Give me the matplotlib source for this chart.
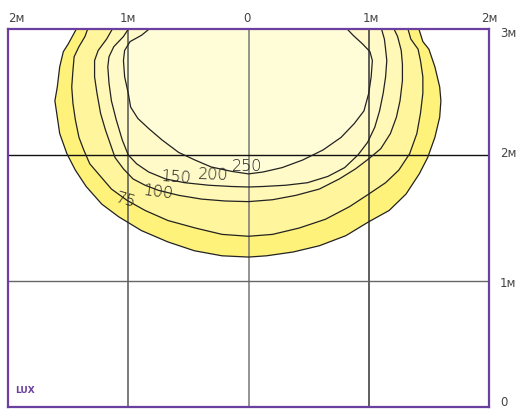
import matplotlib.pyplot as plt

# isolux lines (metres), each from top-left round the bottom to top-right
c1_x = [-1.42, -1.50, -1.54, -1.57, -1.59, -1.61, -1.59, -1.57, -1.51, -1.44, -1.35, -1.22, -1.08, -0.89, -0.67, -0.45, -0.22, 0.0,
        0.15, 0.37, 0.59, 0.81, 1.00, 1.17, 1.31, 1.42, 1.49, 1.55, 1.59, 1.60, 1.59, 1.55, 1.50, 1.45, 1.41]
c1_y = [3.02, 2.88, 2.82, 2.70, 2.54, 2.43, 2.30, 2.17, 2.01, 1.88, 1.75, 1.61, 1.51, 1.40, 1.31, 1.24, 1.20, 1.19,
        1.20, 1.23, 1.28, 1.36, 1.47, 1.56, 1.69, 1.85, 1.98, 2.14, 2.30, 2.43, 2.54, 2.70, 2.84, 2.90, 3.02]

c2_x = [-1.33, -1.36, -1.41, -1.45, -1.46, -1.47, -1.46, -1.44, -1.41, -1.37, -1.32, -1.23, -1.14, -1.01, -0.86, -0.67, -0.44, -0.22, 0.0,
        0.20, 0.42, 0.64, 0.84, 1.00, 1.14, 1.25, 1.34, 1.40, 1.43, 1.45, 1.45, 1.43, 1.41, 1.35, 1.32]
c2_y = [3.02, 2.94, 2.86, 2.78, 2.67, 2.54, 2.41, 2.28, 2.14, 2.04, 1.93, 1.83, 1.73, 1.64, 1.56, 1.48, 1.42, 1.37, 1.355,
        1.37, 1.42, 1.49, 1.59, 1.69, 1.78, 1.88, 2.01, 2.17, 2.33, 2.49, 2.62, 2.75, 2.84, 2.92, 3.02]

c3_x = [-1.12, -1.18, -1.25, -1.28, -1.28, -1.26, -1.23, -1.19, -1.15, -1.11, -1.04, -0.96, -0.86, -0.75, -0.58, -0.39, -0.195, 0.0,
        0.20, 0.395, 0.59, 0.755, 0.89, 1.00, 1.10, 1.18, 1.23, 1.26, 1.28, 1.28, 1.27, 1.24, 1.20]
c3_y = [3.02, 2.92, 2.83, 2.75, 2.62, 2.49, 2.33, 2.20, 2.09, 1.98, 1.89, 1.81, 1.76, 1.72, 1.68, 1.65, 1.635, 1.63,
        1.645, 1.68, 1.73, 1.81, 1.89, 1.97, 2.05, 2.17, 2.30, 2.43, 2.59, 2.72, 2.83, 2.94, 3.02]

c4_x = [-0.985, -1.04, -1.12, -1.16, -1.17, -1.16, -1.14, -1.10, -1.05, -1.00, -0.93, -0.83, -0.69, -0.53, -0.33, -0.14, 0.0,
        0.12, 0.31, 0.49, 0.66, 0.80, 0.91, 0.99, 1.05, 1.09, 1.12, 1.14, 1.15, 1.14, 1.13, 1.10]
c4_y = [3.02, 2.94, 2.86, 2.78, 2.70, 2.57, 2.43, 2.28, 2.12, 2.00, 1.93, 1.865, 1.81, 1.78, 1.76, 1.75, 1.746,
        1.75, 1.76, 1.78, 1.83, 1.90, 2.00, 2.10, 2.22, 2.35, 2.49, 2.62, 2.75, 2.84, 2.92, 3.02]

c5_x = [-0.80, -0.89, -0.985, -1.03, -1.04, -1.03, -1.00, -0.98, -0.92, -0.83, -0.72, -0.58, -0.445, -0.31, -0.14, 0.0,
        0.12, 0.28, 0.45, 0.62, 0.77, 0.88, 0.96, 1.00, 1.02, 1.03, 1.01, 0.95, 0.87, 0.80]
c5_y = [3.02, 2.95, 2.90, 2.83, 2.75, 2.62, 2.49, 2.38, 2.29, 2.21, 2.12, 2.02, 1.96, 1.905, 1.87, 1.85,
        1.865, 1.90, 1.96, 2.04, 2.14, 2.25, 2.35, 2.49, 2.62, 2.75, 2.82, 2.88, 2.95, 3.02]

lux_labels = ['75', '100', '150', '200', '250']
label_x = [-1.02, -0.756, -0.603, -0.295, -0.012]
label_y = [1.65, 1.714, 1.83, 1.85, 1.917]
label_rot = [-16, -7, -4, -2, 0]

top_ticks = ['2м', '1м', '0', '1м', '2м']
top_x = [-1.93, -1.0, -0.01, 1.02, 2.0]
side_ticks = ['3м', '2м', '1м', '0']
side_y = [2.97, 2.02, 0.99, 0.04]

curves = [(c1_x, c1_y), (c2_x, c2_y), (c3_x, c3_y), (c4_x, c4_y), (c5_x, c5_y)]
fills = ['#fff27a', '#fff59c', '#fff8b6', '#fffac8', '#fffcd8']
purple = '#6b3fa0'

fig = plt.figure(figsize=(5.2, 4.1), dpi=100)
ax = fig.add_axes([8 / 520, 2 / 410, 481 / 520, 378 / 410])
ax.set_xlim(-2, 2)
ax.set_ylim(0, 3)

for (xs, ys), col in zip(curves, fills):
    ax.fill(xs + [xs[-1], xs[0]], ys + [3.5, 3.5], color=col, lw=0, zorder=1)
    ax.plot(xs, ys, color='#222222', lw=0.9, zorder=3, solid_joinstyle='round')

# grid
ax.axvline(-1, color='#555555', lw=1.1, zorder=2)
ax.axvline(0, color='#777777', lw=1.1, zorder=2)
ax.axvline(1, color='#333333', lw=1.1, zorder=2)
ax.axhline(2, color='#111111', lw=1.0, zorder=2)
ax.axhline(1, color='#666666', lw=1.0, zorder=2)

for t, x, y, r in zip(lux_labels, label_x, label_y, label_rot):
    ax.text(x, y, t, fontsize=11.5, color='#1e1e1e', rotation=r, ha='center', va='center',
            fontweight='light', zorder=4)

for t, x in zip(top_ticks, top_x):
    ax.text(x, 3.095, t, fontsize=8.5, color='#444444', ha='center', va='center', clip_on=False)
for t, y in zip(side_ticks, side_y):
    ax.text(2.09, y, t, fontsize=8.5, color='#444444', ha='left', va='center', clip_on=False)

ax.text(-1.86, 0.135, 'LUX', fontsize=6.5, color=purple, fontweight='bold', ha='center', va='center')

ax.set_xticks([])
ax.set_yticks([])
for s in ax.spines.values():
    s.set_color(purple)
    s.set_linewidth(1.6)
    s.set_zorder(5)

fig.savefig('out.png', dpi=100)
